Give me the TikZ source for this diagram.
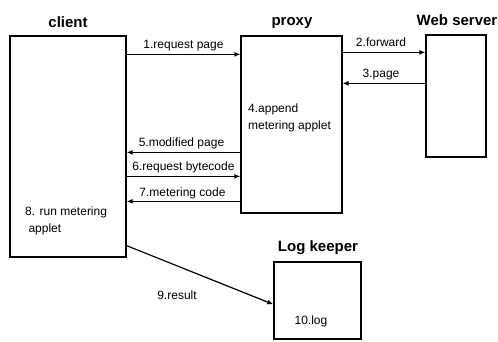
\documentclass[tikz,border=0pt]{standalone}
\usepackage{fontspec}
\setmainfont{Liberation Sans}
\usetikzlibrary{arrows.meta}
\begin{document}
\begin{tikzpicture}[x=1pt,y=-1pt,
  box/.style={draw,line width=1.3pt,inner sep=0pt,minimum width=#1},
  title/.style={font=\fontsize{15}{17}\selectfont\bfseries,inner sep=0pt,anchor=base},
  lbl/.style={font=\fontsize{12}{14}\selectfont,inner sep=0pt,anchor=base},
  note/.style={font=\fontsize{12}{17}\selectfont,inner sep=0pt,align=left},
  msg/.style={line width=1.2pt,-{Latex[length=6pt,width=5pt]}}]
\useasboundingbox (0,0) rectangle (498,341);

% boxes
\node[box=116pt,minimum height=221pt] (client) at (68,146.5) {};
\node[box=101pt,minimum height=177pt] (proxy) at (291.5,124.5) {};
\node[box=60pt,minimum height=122pt] (web) at (456,96) {};
\node[box=87pt,minimum height=77pt] (log) at (317.5,300.5) {};

% titles
\node[title] (tclient) at (68,27) {client};
\node[title] (tproxy) at (292,25) {proxy};
\node[title] (tweb) at (457,25) {Web server};
\node[title] (tlog) at (318,251) {Log keeper};

% texts inside boxes
\node[note,anchor=north west] (append) at (248,104) {4.append\\metering applet};
\node[note,anchor=north west] (run) at (25,207) {8. run metering\\\ applet};
\node[lbl] (logtxt) at (311,324) {10.log};

% messages
\draw[msg] ([yshift=-19pt]client.north east) -- ([yshift=-19pt]proxy.north west)
  node[lbl,midway,yshift=6pt] {1.request page};
\draw[msg] ([yshift=-17pt]proxy.north east) -- ([yshift=-18pt]web.north west)
  node[lbl,midway,yshift=6pt,xshift=-3pt] {2.forward};
\draw[msg] ([yshift=-49pt]web.north west) -- ([yshift=-48pt]proxy.north east)
  node[lbl,midway,yshift=6pt,xshift=-3pt] {3.page};
\draw[msg] ([yshift=-117pt]proxy.north west) -- ([yshift=-117pt]client.north east)
  node[lbl,midway,yshift=6pt,xshift=-2pt] {5.modified page};
\draw[msg] ([yshift=-141pt]client.north east) -- ([yshift=-141pt]proxy.north west)
  node[lbl,midway,yshift=6pt] {6.request bytecode};
\draw[msg] ([yshift=-166pt]proxy.north west) -- ([yshift=-166pt]client.north east)
  node[lbl,midway,yshift=5pt,xshift=-1pt] {7.metering code};
\draw[msg] ([yshift=12pt]client.south east) -- ([yshift=-43pt]log.north west);
\node[lbl] (result) at (177,299) {9.result};
\end{tikzpicture}
\end{document}
